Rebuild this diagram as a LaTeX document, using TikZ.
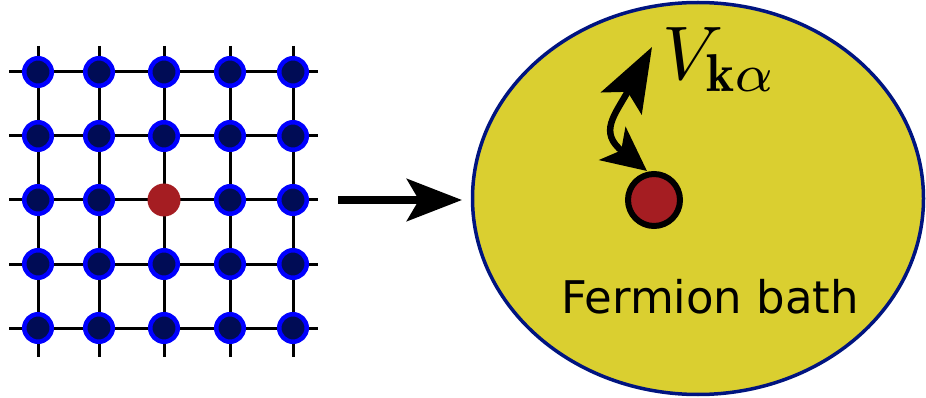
\documentclass[tikz,border=0pt]{standalone}
\usepackage{fontspec}
\newfontfamily\dejavu{DejaVu Sans}
\usetikzlibrary{arrows.meta,shapes.geometric}
\definecolor{dotnavy}{RGB}{0,12,85}
\definecolor{dotblue}{RGB}{0,0,255}
\definecolor{impred}{RGB}{165,29,34}
\definecolor{bathyellow}{RGB}{218,207,48}
\definecolor{bathblue}{RGB}{0,20,128}
\tikzset{
  gridline/.style={line width=3pt, black},
  latdot/.style={circle, draw=dotblue, fill=dotnavy, line width=4.5pt, minimum size=27.5pt, inner sep=0pt},
  impdot/.style={circle, fill=impred, minimum size=33pt, inner sep=0pt},
  bathdot/.style={circle, draw=black, fill=impred, line width=6pt, minimum size=52pt, inner sep=0pt},
  bathshape/.style={ellipse, draw=bathblue, fill=bathyellow, line width=3.5pt, minimum width=451pt, minimum height=392pt, inner sep=0pt},
  bigarrow/.style={line width=8pt, -{Stealth[length=55pt, width=42pt, inset=12pt]}},
  hoparrow/.style={line width=6.5pt, {Stealth[length=44pt, width=42pt, inset=11pt]}-{Stealth[length=64pt, width=46pt, inset=13pt]}}
}
\begin{document}
\begin{tikzpicture}[x=1pt, y=-1pt]
\useasboundingbox (0,0) rectangle (926,398);
% grid lines
\foreach \r/\y in {1/72,2/136,3/200,4/264,5/328}{
  \coordinate (hl\r) at (9,\y);
  \coordinate (hr\r) at (318,\y);
  \draw[gridline] (hl\r) -- (hr\r);
}
\foreach \c/\x in {1/38,2/99,3/164,4/230,5/293}{
  \coordinate (vt\c) at (\x,46);
  \coordinate (vb\c) at (\x,357);
  \draw[gridline] (vt\c) -- (vb\c);
}
% dots
\foreach \r/\y in {1/72,2/136,3/200,4/264,5/328}{
  \foreach \c/\x in {1/38,2/99,3/164,4/230,5/293}{
    \ifnum\r=3 \ifnum\c=3 \else \node[latdot] (d\r\c) at (\x,\y) {}; \fi
    \else \node[latdot] (d\r\c) at (\x,\y) {}; \fi
  }
}
\node[impdot] (imp) at (164,200) {};
% bath
\node[bathshape] (bath) at (698,198.5) {};
\coordinate (arrstart) at (338,200);
\coordinate (arrtip) at (462,200);
\draw[bigarrow] (arrstart) -- (arrtip);
\node[bathdot] (bdot) at (654,200) {};
\coordinate (hopbot) at (647,171);
\coordinate (hoptop) at (652,47);
\draw[hoparrow] (hopbot) .. controls (598,132) and (615,115) .. (hoptop);
\node[anchor=base west, inner sep=0pt] (V) at (662,80) {\scalebox{7.6}{$V_{\mathbf{k}\alpha}$}};
\node[anchor=base west, inner sep=0pt, font=\dejavu\fontsize{45}{50}\selectfont] (label) at (561,313) {Fermion bath};
\end{tikzpicture}
\end{document}
